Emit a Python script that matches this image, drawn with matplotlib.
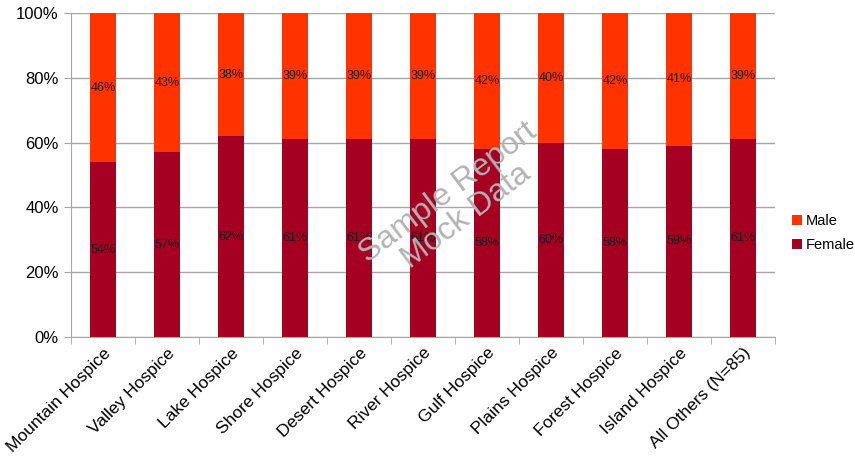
import numpy as np
import matplotlib
matplotlib.use("Agg")
import matplotlib.pyplot as plt
from matplotlib import font_manager
from matplotlib.ticker import FuncFormatter, FixedLocator

names = {f.name for f in font_manager.fontManager.ttflist}
narrow = "Liberation Sans Narrow" if "Liberation Sans Narrow" in names else "Liberation Sans"
plt.rcParams['font.family'] = [narrow, 'DejaVu Sans']

categories = ["Mountain Hospice", "Valley Hospice", "Lake Hospice", "Shore Hospice",
              "Desert Hospice", "River Hospice", "Gulf Hospice", "Plains Hospice",
              "Forest Hospice", "Island Hospice", "All Others (N=85)"]
female = [54, 57, 62, 61, 61, 61, 58, 60, 58, 59, 61]
male = [46, 43, 38, 39, 39, 39, 42, 40, 42, 41, 39]

female_color = "#A50021"
male_color = "#FF3300"

fig = plt.figure(figsize=(8.55, 4.57), dpi=100)
ax = fig.add_axes([71 / 855, 1 - 337 / 457, (775 - 71) / 855, (337 - 13) / 457])

x = np.arange(len(categories))
w = 0.42
ax.bar(x, female, width=w, color=female_color, label="Female", zorder=2)
ax.bar(x, male, width=w, bottom=female, color=male_color, label="Male", zorder=2)

for i in range(len(categories)):
    ax.text(x[i], female[i] / 2, f"{female[i]}%", ha="center", va="center",
            fontsize=9, color="#1a1a1a", zorder=3)
    ax.text(x[i], female[i] + male[i] / 2, f"{male[i]}%", ha="center", va="center",
            fontsize=9, color="#1a1a1a", zorder=3)

ax.set_xlim(-0.5, len(categories) - 0.5)
ax.set_ylim(0, 100)
ax.yaxis.set_major_locator(FixedLocator([0, 20, 40, 60, 80, 100]))
ax.yaxis.set_major_formatter(FuncFormatter(lambda v, p: f"{int(v)}%"))
ax.grid(axis="y", color="#a6a6a6", linewidth=1, zorder=0)
ax.set_axisbelow(True)

ax.set_xticks(x)
ax.set_xticklabels(categories, rotation=45, ha="right", rotation_mode="anchor",
                   fontsize=12.5, family=["Liberation Sans", "DejaVu Sans"])
ax.tick_params(axis="x", length=0, pad=6)
ax.set_xticks(np.arange(len(categories) + 1) - 0.5, minor=True)
ax.tick_params(axis="x", which="minor", length=5, color="#a6a6a6", direction="out")
ax.tick_params(axis="y", length=5, color="#a6a6a6", labelsize=12, pad=4)

for s in ["top", "right"]:
    ax.spines[s].set_visible(False)
ax.spines["left"].set_color("#a6a6a6")
ax.spines["bottom"].set_color("#a6a6a6")

handles, labels = ax.get_legend_handles_labels()
fig.legend(handles[::-1], labels[::-1], loc="center left", bbox_to_anchor=(792 / 855, 1 - 233 / 457),
           frameon=False, fontsize=10.5, handlelength=0.7, handleheight=0.7,
           handletextpad=0.25, labelspacing=0.7, borderpad=0, borderaxespad=0)

fig.text(457 / 855, 1 - 205 / 457, "Sample Report\nMock Data", rotation=37,
         ha="center", va="center", fontsize=23, color="#b3b3b3",
         family=["Liberation Sans", "DejaVu Sans"], linespacing=1.0)

fig.savefig("out.png", dpi=100)
